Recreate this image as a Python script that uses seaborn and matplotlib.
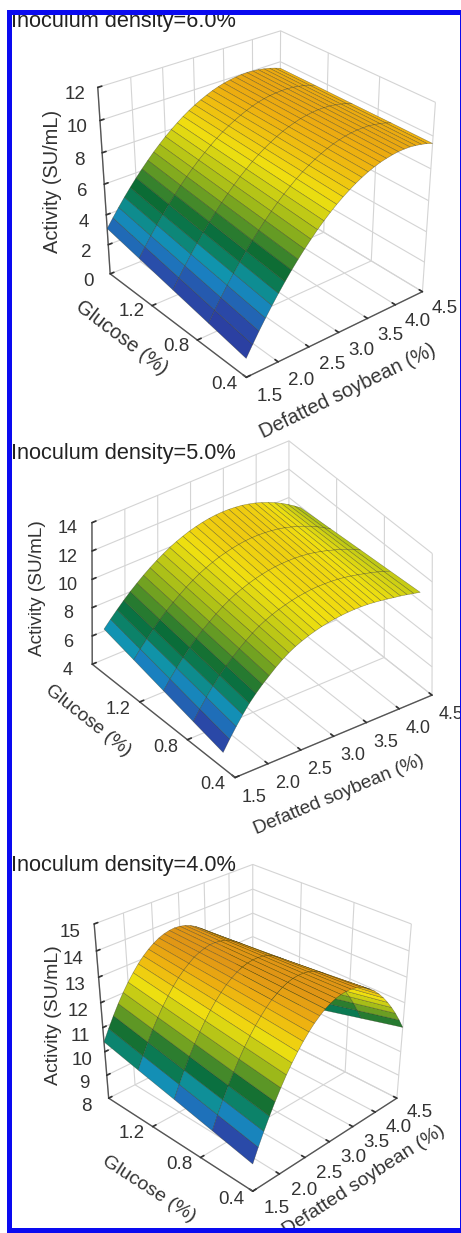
import numpy as np
import matplotlib
matplotlib.use("Agg")
import matplotlib.pyplot as plt
import seaborn as sns
from matplotlib.colors import LinearSegmentedColormap
from matplotlib.patches import Rectangle
from matplotlib.transforms import Affine2D

sns.set_theme(style="white")
plt.rcParams['font.family'] = ['Liberation Sans', 'DejaVu Sans']

soy = [1.5,1.6,1.7,1.8,1.9,2.0,2.1,2.2,2.3,2.4,2.5,2.6,2.7,2.8,2.9,3.0,3.1,3.2,3.3,3.4,3.5,3.6,3.7,3.8,3.9,4.0,4.1,4.2,4.3,4.4,4.5]
glu_a = [0.4,0.7,1.0,1.3,1.6]
glu_b = [0.5,0.75,1.0,1.25,1.5]
# One line per soybean value, one column per glucose value.
# The first and last columns are estimates from the two visible surface edges, smoothed by eye.
# The three inner columns could not be read directly: they are straight-line estimates
# between those edges, which is how the colour bands run across the reference.
act6 = [
[1.21,1.68,2.15,2.62,3.09],[1.89,2.33,2.77,3.21,3.65],[2.55,2.96,3.37,3.78,4.19],[3.17,3.56,3.94,4.33,4.71],
[3.77,4.13,4.49,4.84,5.20],[4.34,4.67,5.01,5.34,5.67],[4.88,5.19,5.50,5.80,6.11],[5.40,5.68,5.97,6.25,6.53],
[5.88,6.14,6.41,6.67,6.93],[6.34,6.58,6.82,7.06,7.30],[6.77,6.99,7.21,7.43,7.65],[7.18,7.38,7.58,7.77,7.97],
[7.55,7.73,7.91,8.09,8.27],[7.90,8.06,8.23,8.39,8.55],[8.22,8.37,8.51,8.66,8.80],[8.51,8.64,8.77,8.90,9.03],
[8.77,8.89,9.00,9.12,9.23],[9.01,9.11,9.21,9.31,9.41],[9.22,9.31,9.40,9.48,9.57],[9.40,9.48,9.55,9.63,9.70],
[9.55,9.62,9.68,9.75,9.81],[9.68,9.73,9.79,9.84,9.89],[9.77,9.82,9.86,9.91,9.95],[9.84,9.88,9.92,9.95,9.99],
[9.89,9.92,9.95,9.97,10.0],[9.90,9.92,9.95,9.97,9.99],[9.89,9.91,9.92,9.94,9.95],[9.84,9.85,9.87,9.88,9.89],
[9.77,9.78,9.79,9.80,9.81],[9.68,9.69,9.69,9.70,9.70],[9.55,9.56,9.56,9.57,9.57]]
act5 = [
[5.10,5.61,6.12,6.64,7.15],[5.85,6.30,6.76,7.21,7.66],[6.55,6.95,7.35,7.74,8.14],[7.20,7.55,7.90,8.25,8.60],
[7.80,8.11,8.42,8.72,9.03],[8.30,8.58,8.86,9.14,9.42],[8.75,9.01,9.27,9.53,9.79],[9.15,9.40,9.64,9.89,10.13],
[9.55,9.77,10.0,10.22,10.44],[9.90,10.11,10.31,10.52,10.72],[10.2,10.40,10.59,10.79,10.98],[10.45,10.64,10.83,11.01,11.2],
[10.65,10.84,11.02,11.21,11.39],[10.82,11.01,11.19,11.38,11.56],[10.96,11.14,11.33,11.51,11.69],[11.08,11.26,11.44,11.62,11.8],
[11.17,11.35,11.53,11.70,11.88],[11.24,11.41,11.59,11.76,11.93],[11.29,11.46,11.62,11.79,11.95],[11.32,11.48,11.63,11.79,11.94],
[11.33,11.47,11.62,11.76,11.9],[11.32,11.45,11.58,11.71,11.84],[11.29,11.40,11.52,11.63,11.74],[11.24,11.34,11.43,11.53,11.62],
[11.17,11.24,11.32,11.39,11.46],[11.09,11.14,11.19,11.23,11.28],[11.0,11.02,11.04,11.05,11.07],[10.92,10.90,10.88,10.85,10.83],
[10.82,10.76,10.69,10.63,10.56],[10.71,10.60,10.49,10.37,10.26],[10.6,10.43,10.27,10.10,9.93]]
act4 = [
[9.10,9.43,9.76,10.08,10.41],[9.63,9.94,10.25,10.55,10.86],[10.12,10.41,10.70,10.99,11.28],[10.58,10.85,11.13,11.40,11.67],
[11.01,11.26,11.52,11.77,12.02],[11.41,11.64,11.88,12.11,12.34],[11.78,11.99,12.20,12.41,12.62],[12.11,12.30,12.50,12.69,12.88],
[12.41,12.58,12.76,12.93,13.10],[12.68,12.83,12.98,13.13,13.28],[12.92,13.05,13.18,13.30,13.43],[13.13,13.24,13.34,13.45,13.55],
[13.30,13.38,13.47,13.55,13.63],[13.45,13.51,13.57,13.62,13.68],[13.56,13.60,13.63,13.67,13.70],[13.64,13.65,13.66,13.67,13.68],
[13.68,13.67,13.66,13.64,13.63],[13.70,13.66,13.63,13.59,13.55],[13.68,13.62,13.56,13.49,13.43],[13.64,13.55,13.46,13.37,13.28],
[13.56,13.45,13.33,13.22,13.10],[13.45,13.31,13.17,13.02,12.88],[13.30,13.13,12.96,12.79,12.62],[13.13,12.93,12.74,12.54,12.34],
[12.92,12.70,12.47,12.25,12.02],[12.68,12.43,12.18,11.92,11.67],[12.41,12.13,11.85,11.56,11.28],[12.11,11.80,11.49,11.17,10.86],
[11.78,11.44,11.10,10.75,10.41],[11.41,11.04,10.67,10.29,9.92],[11.01,10.61,10.21,9.80,9.40]]
titles = ["Inoculum density=6.0%","Inoculum density=5.0%","Inoculum density=4.0%"]
zticks6 = [0,2,4,6,8,10,12]
zticks5 = [4,6,8,10,12,14]
zticks4 = [8,9,10,11,12,13,14,15]
soy_ticks = [1.5,2.0,2.5,3.0,3.5,4.0,4.5]
glu_ticks = [0.4,0.8,1.2]

cmap = LinearSegmentedColormap.from_list("surf",[(0,"#2b3a9e"),(.15,"#2a4aa8"),(.24,"#1a7fc0"),(.3,"#1095b0"),(.36,"#0b8060"),
    (.43,"#0a6b35"),(.6,"#9ab71a"),(.75,"#f0e010"),(.9,"#eeb010"),(1,"#e09515")])
W,H=461,1233
fig=plt.figure(figsize=(W/100,H/100),dpi=100,facecolor="white")

def panel(rect,data,glu,zt,zlim,vmin,vmax,el,az,fl,aspect,title,ty,fs,lfs,zpad,zlp,nx,ny,nlx,nly):
    ax=fig.add_axes([rect[0]/W,1-(rect[1]+rect[3])/H,rect[2]/W,rect[3]/H],projection='3d')
    ax.patch.set_alpha(0)
    X,Y=np.meshgrid(soy,glu)
    Z=np.array(data).T
    ax.plot_surface(X,Y,Z,rstride=1,cstride=1,cmap=cmap,vmin=vmin,vmax=vmax,edgecolor=(0.15,0.15,0.05,0.5),linewidth=0.35,antialiased=True)
    ax.set_xlim(1.5,4.5,view_margin=0); ax.set_ylim(0.4,1.6,view_margin=0); ax.set_zlim(*zlim,view_margin=0)
    ax.set_xticks(soy_ticks); ax.set_yticks(glu_ticks); ax.set_zticks(zt)
    ax.set_xticklabels([f"{v:.1f}" for v in soy_ticks]); ax.set_yticklabels([f"{v:.1f}" for v in glu_ticks])
    ax.set_proj_type('persp',focal_length=fl)
    ax.view_init(elev=el,azim=az)
    ax.set_box_aspect(aspect)
    for a in (ax.xaxis,ax.yaxis,ax.zaxis):
        a.set_pane_color((1,1,1,0)); a.pane.set_edgecolor("#6b6b6b"); a.pane.set_linewidth(0.9)
        a._axinfo['grid'].update(color="#d4d4d4",linewidth=0.8)
        a._axinfo['tick'].update(inward_factor=0,outward_factor=0.25)
        a.line.set_color("#555555"); a.line.set_linewidth(1.0)
    ax.tick_params(axis='x',labelsize=fs,pad=2,colors="#333333")
    ax.tick_params(axis='y',labelsize=fs,pad=2,colors="#333333")
    ax.tick_params(axis='z',labelsize=fs,pad=zpad,colors="#333333")
    ax.set_xlabel("Defatted soybean (%)",fontsize=lfs,color="#333333",labelpad=8)
    ax.set_ylabel("Glucose (%)",fontsize=lfs,color="#333333",labelpad=8)
    ax.zaxis.set_rotate_label(False)
    ax.set_zlabel("Activity (SU/mL)",fontsize=lfs,color="#333333",labelpad=zlp,rotation=90)
    def nudge(t,d):
        orig=t.draw
        T=Affine2D().translate(d[0],-d[1])
        def draw(renderer,*a,**k):
            t.set_transform(ax.transData+T)
            return orig(renderer,*a,**k)
        t.draw=draw
    for t in ax.xaxis.get_major_ticks(): nudge(t.label1,nx)
    for t in ax.yaxis.get_major_ticks(): nudge(t.label1,ny)
    nudge(ax.xaxis.label,nlx); nudge(ax.yaxis.label,nly)
    fig.text(11/W,1-ty/H,title,fontsize=15.7,color="#222222",va="center",ha="left")
    return ax

panel((70,8,379,379),act6,glu_a,zticks6,(0,12),1.2,10.6,29,-129,0.65,(1,1,.93),titles[0],21,13.5,14.4,2,2.3,(12,-11),(-8,-21),(-22,0),(-15,-38))
panel((70,427,374,374),act5,glu_b,zticks5,(4,14),4.5,13.5,35,-126,30.0,(1,1,.71),titles[1],453,13,13.7,2,1.6,(9,-7),(-8,-17),(-24,6),(-35,-46))
panel((72,844,352,352),act4,glu_a,zticks4,(8,15),8.8,13.6,30,-135,0.55,(1,1,.94),titles[2],866,13.5,14,2,0.2,(12,-12),(-9,-21),(0,-18),(7,-9))

fig.add_artist(Rectangle((8.5/W,1-1230/H),453/W,1218.5/H,transform=fig.transFigure,fill=False,edgecolor="#0a0af0",linewidth=3.6,zorder=20))
fig.savefig("out.png",dpi=100)
